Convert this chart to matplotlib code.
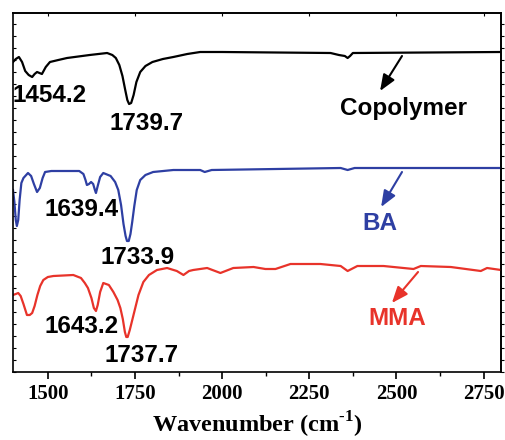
import matplotlib
matplotlib.use('Agg')
import matplotlib.pyplot as plt
from matplotlib.ticker import MultipleLocator

# FTIR spectra (wavenumber in cm-1, signal in arbitrary units)
copo_wn = [1400, 1408, 1417, 1426, 1435, 1445, 1455, 1462, 1469, 1476, 1483, 1494,
           1506, 1530, 1555, 1620, 1670, 1685, 1695, 1705, 1714, 1722, 1728, 1733,
           1739, 1746, 1754, 1765, 1780, 1800, 1830, 1860, 1900, 1937, 2000, 2311,
           2335, 2352, 2360, 2367, 2375, 2800]
copo_val = [310, 313, 315, 310, 301, 297, 295, 298, 300, 299, 298, 305,
            310, 312, 314, 317, 319, 317, 314, 307, 296, 282, 272, 268,
            269, 277, 290, 300, 306, 310, 313, 315, 318, 320, 320, 319,
            317, 316, 314, 316, 319, 320]

ba_wn = [1400, 1404, 1408, 1411, 1415, 1419, 1424, 1430, 1443, 1452, 1460, 1469,
         1477, 1485, 1492, 1510, 1535, 1590, 1602, 1608, 1612, 1618, 1624, 1630,
         1635, 1638, 1643, 1650, 1659, 1680, 1693, 1702, 1710, 1717, 1723, 1727,
         1732, 1737, 1742, 1748, 1755, 1765, 1780, 1802, 1860, 1937, 1950, 1970,
         2340, 2360, 2380, 2800]
ba_val = [182, 170, 152, 146, 152, 172, 189, 194, 199, 196, 188, 180,
          184, 194, 200, 201, 201, 201, 198, 192, 187, 188, 190, 188,
          182, 179, 186, 195, 199, 196, 190, 182, 167, 148, 136, 131,
          131, 138, 150, 166, 182, 192, 197, 200, 202, 202, 200, 202,
          204, 202, 204, 204]

mma_wn = [1400, 1408, 1415, 1422, 1430, 1440, 1448, 1455, 1462, 1470, 1478, 1487,
          1500, 1516, 1573, 1595, 1606, 1615, 1625, 1632, 1638, 1643, 1650, 1659,
          1675, 1688, 1700, 1708, 1715, 1721, 1725, 1729, 1735, 1745, 1760, 1774,
          1790, 1813, 1842, 1870, 1889, 1905, 1917, 1957, 1995, 2032, 2090, 2124,
          2153, 2196, 2282, 2340, 2360, 2388, 2463, 2549, 2570, 2656, 2742, 2760,
          2800]
mma_val = [77, 78, 79, 76, 68, 57, 57, 59, 66, 77, 86, 92,
           95, 96, 97, 94, 89, 84, 74, 64, 61, 67, 80, 89,
           87, 80, 72, 64, 53, 40, 35, 35, 42, 56, 77, 90,
           97, 102, 104, 101, 97, 101, 102, 104, 99, 104, 105, 103,
           103, 108, 108, 106, 101, 106, 106, 103, 106, 105, 101, 104,
           102]

black = '#000000'
blue = '#2E3FA3'
red = '#E8332A'

plt.rcParams['mathtext.fontset'] = 'custom'
plt.rcParams['mathtext.rm'] = 'Liberation Serif:bold'
plt.rcParams['mathtext.bf'] = 'Liberation Serif:bold'

fig = plt.figure(figsize=(5.05, 4.40), dpi=100)
ax = fig.add_axes([13 / 505, 68 / 440, 488 / 505, 359 / 440])

ax.plot(copo_wn, copo_val, color=black, lw=1.6)
ax.plot(ba_wn, ba_val, color=blue, lw=1.6)
ax.plot(mma_wn, mma_val, color=red, lw=1.6)

ax.set_xlim(1400, 2800)
ax.set_ylim(0, 359)

sans = dict(family='Liberation Sans', fontweight='bold', fontsize=17.5,
            ha='center', va='center')
ax.text(1506, 277, '1454.2', color=black, **sans)
ax.text(1784, 249, '1739.7', color=black, **sans)
ax.text(1598, 163, '1639.4', color=black, **sans)
ax.text(1756, 114, '1733.9', color=black, **sans)
ax.text(1598, 46, '1643.2', color=black, **sans)
ax.text(1770, 17, '1737.7', color=black, **sans)

ax.text(2519, 264, 'Copolymer', color=black, **sans)
ax.text(2453, 149, 'BA', color=blue, **sans)
ax.text(2502, 54, 'MMA', color=red, **sans)

arrows = [((2516, 316), (2453, 281), black),
          ((2516, 200), (2456, 165), blue),
          ((2562, 100), (2487, 69), red)]
for start, end, c in arrows:
    ax.annotate('', xy=end, xytext=start,
                arrowprops=dict(arrowstyle='-|>,head_length=0.7,head_width=0.28',
                                color=c, lw=1.5, shrinkA=0, shrinkB=0,
                                mutation_scale=14))

ax.xaxis.set_major_locator(MultipleLocator(250))
ax.xaxis.set_minor_locator(MultipleLocator(125))
ax.yaxis.set_major_locator(MultipleLocator(12))
ax.tick_params(axis='x', which='major', direction='out', length=5, width=1.2)
ax.tick_params(axis='x', which='minor', direction='out', length=3, width=1.0)
ax.tick_params(axis='y', which='major', direction='in', length=2, width=0.8,
               left=True, right=False, labelleft=False)
for lab in ax.get_xticklabels():
    lab.set_fontfamily('Liberation Serif')
    lab.set_fontweight('bold')
    lab.set_fontsize(15)

# top ticks point in, right ticks point out
top = ax.secondary_xaxis('top')
top.xaxis.set_major_locator(MultipleLocator(250))
top.tick_params(direction='in', length=2.5, width=0.8, labeltop=False)
right = ax.secondary_yaxis('right')
right.yaxis.set_major_locator(MultipleLocator(12))
right.tick_params(direction='out', length=2, width=0.8, labelright=False)
for s in list(ax.spines.values()) + [top.spines['top'], right.spines['right']]:
    s.set_linewidth(1.2)

ax.set_xlabel(r'Wavenumber (cm$^{\text{-1}}$)', family='Liberation Serif',
              fontweight='bold', fontsize=17.5, labelpad=4)

fig.savefig('out.png', dpi=100)
